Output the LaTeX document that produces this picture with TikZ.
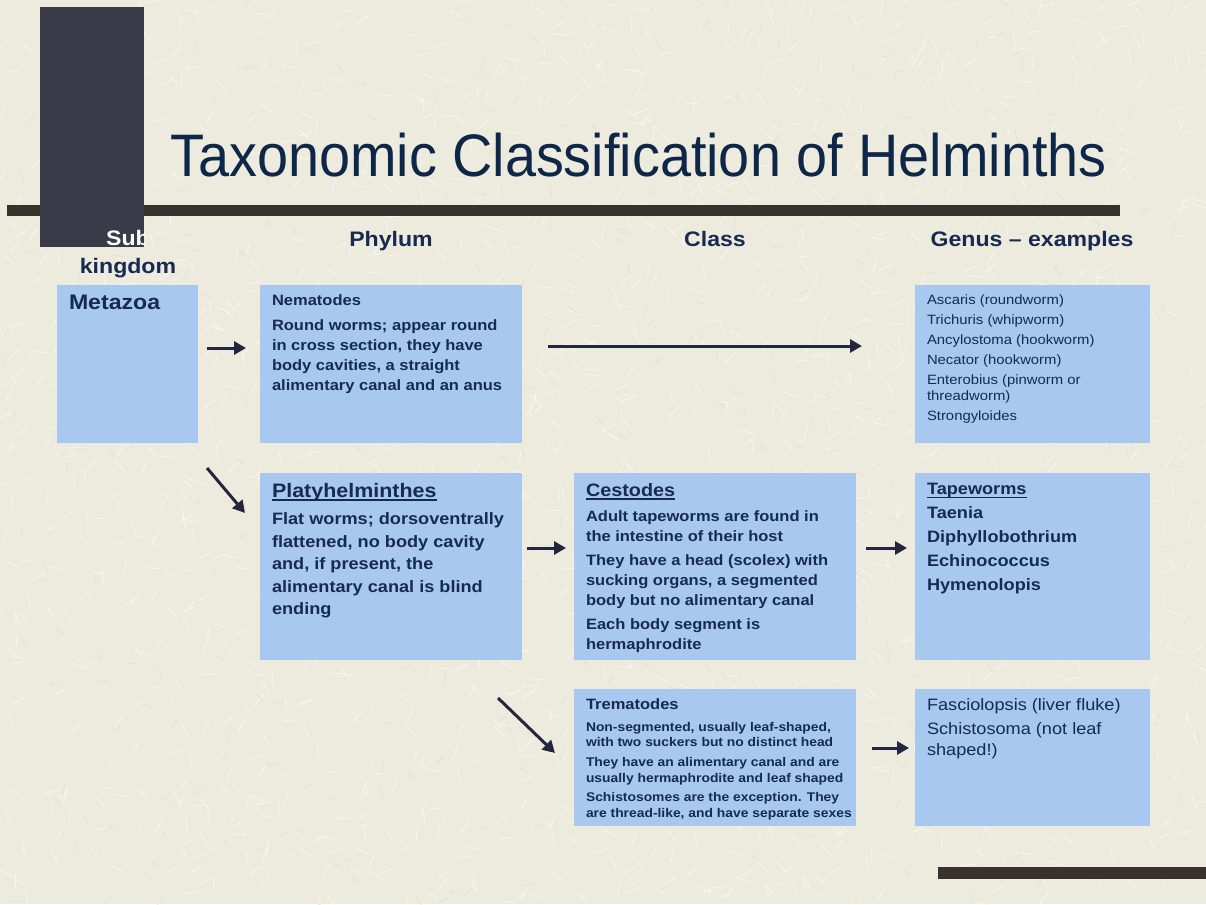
\documentclass[tikz,border=0pt]{standalone}
\usepackage{fontspec}
\setmainfont[FakeStretch=1.1]{Liberation Sans}
\newfontfamily\titlefont[FakeStretch=0.93]{Liberation Sans}
\usetikzlibrary{arrows.meta}

\definecolor{paper}{RGB}{237,235,221}
\definecolor{grain}{RGB}{250,249,243}
\definecolor{grit}{RGB}{222,218,200}
\definecolor{boxblue}{RGB}{168,200,240}
\definecolor{navy}{RGB}{22,42,82}
\definecolor{titlenavy}{RGB}{14,38,72}
\definecolor{slate}{RGB}{58,58,72}
\definecolor{rulebar}{RGB}{55,50,45}
\definecolor{arrowink}{RGB}{35,38,62}

\tikzset{
  box/.style={fill=boxblue, inner xsep=12pt, inner ysep=10pt, outer sep=0pt,
    anchor=north west, text=navy},
  head/.style={font=\fontsize{21}{24}\selectfont\bfseries, text=navy,
    anchor=base, inner sep=0pt},
  link/.style={draw=arrowink, line width=3pt,
    -{Triangle[length=12pt,width=13pt]}},
}

% top-aligned text block of fixed size (width, height in pt)
\newcommand{\boxtext}[3]{\parbox[t][#2pt][t]{#1pt}{\raggedright #3}}
% heavy underline
\newcommand{\ulword}[1]{\leavevmode\setbox0\hbox{#1}\rlap{\vrule height -2.2pt depth 3.5pt width \wd0}\box0}

\begin{document}
\begin{tikzpicture}[x=1pt, y=-1pt]

    \useasboundingbox (0,0) rectangle (1206,904);
    \fill[paper] (0,0) rectangle (1206,904);

    % paper grain
    \begin{scope}
        \clip (0,0) rectangle (1206,904);
        \pgfmathsetseed{7}
        \foreach \i in {1,...,1500} {
            \pgfmathsetmacro\px{rnd*1206}
            \pgfmathsetmacro\py{rnd*904}
            \pgfmathsetmacro\ang{rnd*360}
            \draw[grain, line width=0.9pt, opacity=0.8] (\px,\py) -- ++(\ang:14);
        }
        \foreach \i in {1,...,400} {
            \pgfmathsetmacro\px{rnd*1206}
            \pgfmathsetmacro\py{rnd*904}
            \pgfmathsetmacro\ang{rnd*360}
            \draw[grit, line width=0.7pt, opacity=0.7] (\px,\py) -- ++(\ang:10);
        }
    \end{scope}

    % slide rules
    \fill[rulebar] (7,205) rectangle (1120,216);
    \fill[slate] (40,7) rectangle (144,247);
    \fill[rulebar] (938,867) rectangle (1206,879);

    \node[anchor=base west, inner sep=0pt, text=titlenavy,
        font=\titlefont\fontsize{60}{60}\selectfont] (title) at (170,176)
        {Taxonomic Classification of Helminths};

    % column heads
    \begin{scope}
        \clip (40,7) rectangle (144,247);
        \node[head, text=white] (hsub) at (128,245) {Sub};
    \end{scope}
    \node[head] (hking) at (128,273) {kingdom};
    \node[head] (hphyl) at (391,246) {Phylum};
    \node[head] (hclass) at (715,246) {Class};
    \node[head] (hgenus) at (1032,246) {Genus -- examples};

    % first row
    \node[box] (meta) at (57,285) {\boxtext{117}{138}{%
        \fontsize{21}{24}\selectfont\bfseries Metazoa}};

    \node[box] (nema) at (260,285) {\boxtext{238}{138}{%
        \fontsize{15}{20}\selectfont\bfseries Nematodes\\[5pt]
        Round worms; appear round\\ in cross section, they have\\
        body cavities, a straight\\ alimentary canal and an anus}};

    \node[box] (round) at (915,285) {\boxtext{211}{138}{%
        \fontsize{13.5}{16}\selectfont Ascaris (roundworm)\\[4pt]
        Trichuris (whipworm)\\[4pt] Ancylostoma (hookworm)\\[4pt]
        Necator (hookworm)\\[4pt] Enterobius (pinworm or\\ threadworm)\\[4pt]
        Strongyloides}};

    % second row
    \node[box] (platy) at (260,473) {\boxtext{238}{167}{%
        \fontsize{16.5}{22.5}\selectfont\bfseries
        {\fontsize{19.5}{22}\selectfont\ulword{Platyhelminthes}}\\[5pt]
        Flat worms; dorsoventrally\\ flattened, no body cavity\\
        and, if present, the\\ alimentary canal is blind\\ ending}};

    \node[box] (cest) at (574,473) {\boxtext{258}{167}{%
        \fontsize{15}{20}\selectfont\bfseries
        {\fontsize{18}{20}\selectfont\ulword{Cestodes}}\\[5pt]
        Adult tapeworms are found in\\ the intestine of their host\\[4pt]
        They have a head (scolex) with\\ sucking organs, a segmented\\
        body but no alimentary canal\\[4pt] Each body segment is\\
        hermaphrodite}};

    \node[box] (tape) at (915,473) {\boxtext{211}{167}{%
        \fontsize{16.5}{24}\selectfont\bfseries \ulword{Tapeworms}\\
        Taenia\\ Diphyllobothrium\\ Echinococcus\\ Hymenolopis}};

    % third row
    \node[box] (trem) at (574,689) {\boxtext{258}{117}{%
        \fontsize{12.6}{15.5}\selectfont\bfseries
        {\fontsize{15}{17}\selectfont Trematodes}\\[6pt]
        \mbox{Non-segmented, usually leaf-shaped,}\\
        \mbox{with two suckers but no distinct head}\\[4.5pt]
        \mbox{They have an alimentary canal and are}\\
        \mbox{usually hermaphrodite and leaf shaped}\\[4pt]
        \mbox{Schistosomes are the exception. They}\\
        \mbox{are thread-like, and have separate sexes}}};

    \node[box] (fluke) at (915,689) {\boxtext{211}{117}{%
        \fontsize{16.5}{21}\selectfont Fasciolopsis (liver fluke)\\[3pt]
        Schistosoma (not leaf\\ shaped!)}};

    % arrows between ranks
    \draw[link] ([shift={(9,-16)}]meta.east) -- ([shift={(-14,-16)}]nema.west);
    \draw[link] ([shift={(26,-18)}]nema.east) -- ([shift={(-53,-18)}]round.west);
    \draw[link] ([shift={(9,25)}]meta.south east) -- ([shift={(-15,40)}]platy.north west);
    \draw[link] ([shift={(5,-18.5)}]platy.east) -- ([shift={(-8,-18.5)}]cest.west);
    \draw[link] ([shift={(10,-18.5)}]cest.east) -- ([shift={(-8,-18.5)}]tape.west);
    \draw[link] ([shift={(-24,38)}]platy.south east) -- ([shift={(-19,-4.5)}]trem.west);
    \draw[link] ([shift={(16,-9.5)}]trem.east) -- ([shift={(-6,-9.5)}]fluke.west);

\end{tikzpicture}
\end{document}
